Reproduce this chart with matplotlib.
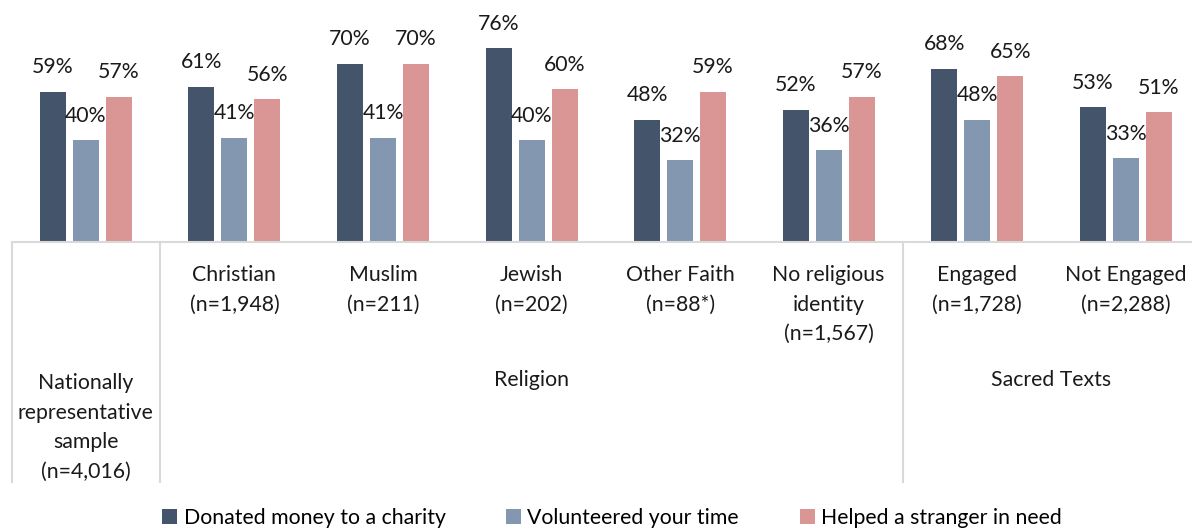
import matplotlib.pyplot as plt
import matplotlib.transforms as mtransforms
from matplotlib.patches import Patch
import numpy as np

plt.rcParams['font.family'] = ['Lato', 'DejaVu Sans']

categories = ["Nationally\nrepresentative\nsample\n(n=4,016)", "Christian\n(n=1,948)", "Muslim\n(n=211)",
              "Jewish\n(n=202)", "Other Faith\n(n=88*)", "No religious\nidentity\n(n=1,567)",
              "Engaged\n(n=1,728)", "Not Engaged\n(n=2,288)"]
donated = [59, 61, 70, 76, 48, 52, 68, 53]
volunteered = [40, 41, 41, 40, 32, 36, 48, 33]
helped = [57, 56, 70, 60, 59, 57, 65, 51]
series_names = ["Donated money to a charity", "Volunteered your time", "Helped a stranger in need"]
group_names = ["Religion", "Sacred Texts"]
group_spans = [(1, 5), (6, 7)]

colors = ["#44546A", "#8497B0", "#DA9694"]
fs = 15.3
W, H = 1192, 529
fig = plt.figure(figsize=(W / 100, H / 100), dpi=100)
ax = fig.add_axes([11.6 / W, 1 - 242 / H, (1200 - 11.6) / W, 242 / H])

x = np.arange(len(categories))
step = 0.222
for k, vals in enumerate([donated, volunteered, helped]):
    bars = ax.bar(x + (k - 1) * step, vals, width=0.175, color=colors[k])
    for b, v in zip(bars, vals):
        ax.annotate(f"{v}%", (b.get_x() + b.get_width() / 2, v), xytext=(0, 17.5),
                    textcoords="offset points", ha="center", va="center", fontsize=fs, color="#1a1a1a")

ax.set_xlim(-0.5, len(categories) - 0.5)
ax.set_ylim(0, 95)
for s in ["top", "right", "left"]:
    ax.spines[s].set_visible(False)
ax.spines["bottom"].set_color("#D9D9D9")
ax.spines["bottom"].set_linewidth(1.5)
ax.set_xticks([])
ax.set_yticks([])

tr = mtransforms.blended_transform_factory(ax.transData, fig.transFigure)
for i, c in enumerate(categories):
    top = 373 if i == 0 else 265
    ax.text(i, 1 - top / H, c, transform=tr, ha="center", va="top", fontsize=fs,
            linespacing=1.6, color="#1a1a1a", clip_on=False)
for name, (a, b) in zip(group_names, group_spans):
    ax.text((a + b) / 2, 1 - 380 / H, name, transform=tr, ha="center", va="center",
            fontsize=fs, color="#1a1a1a", clip_on=False)

for xv in [-0.5, 0.5, 5.5]:
    ax.plot([xv, xv], [1 - 242 / H, 1 - 482 / H], transform=tr, color="#D9D9D9",
            lw=1.5, clip_on=False)

handles = [Patch(facecolor=c) for c in colors]
fig.legend(handles, series_names, loc="center", bbox_to_anchor=(612 / W, 1 - 518 / H), ncol=3,
           frameon=False, fontsize=fs, handlelength=0.7, handleheight=0.7, handletextpad=0.3,
           columnspacing=2.85)

fig.savefig("out.png", dpi=100)
